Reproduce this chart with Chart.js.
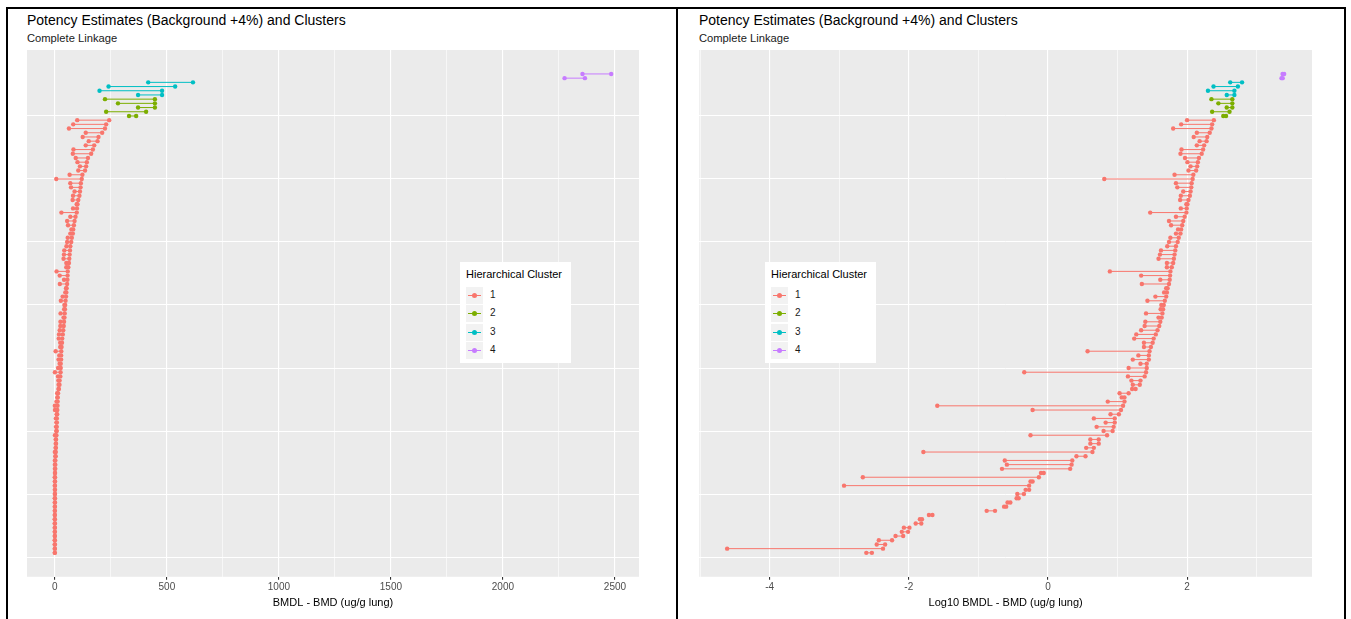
<!DOCTYPE html>
<html>
<head>
<meta charset="utf-8">
<script src="https://cdn.jsdelivr.net/npm/chart.js@4/dist/chart.umd.min.js"></script>
<style>
  body { margin: 0; background: #fff; font-family: "Liberation Sans", Arial, sans-serif; }
  .frame { position: absolute; background: #000; }
  .title { position: absolute; font-size: 14px; line-height: 16px; color: #000; white-space: nowrap; }
  .subtitle { position: absolute; font-size: 11.2px; line-height: 13px; color: #1a1a1a; white-space: nowrap; }
  canvas { position: absolute; }
  .legend { position: absolute; background: #fff; width: 111px; height: 101px; }
  .legend .lt { position: absolute; left: 6px; top: 6px; font-size: 11px; color: #000; white-space: nowrap; }
  .legend .key { position: absolute; left: 6px; width: 17px; height: 17px; background: #f2f2f2; }
  .legend .key i { position: absolute; left: 2px; right: 2px; top: 8px; height: 1px; }
  .legend .key b { position: absolute; left: 6px; top: 6px; width: 5px; height: 5px; border-radius: 50%; }
  .legend .lab { position: absolute; left: 30px; font-size: 10px; color: #1a1a1a; }
</style>
</head>
<body>
<div class="frame" style="left:6px;top:7px;width:1340px;height:2px"></div>
<div class="frame" style="left:6px;top:7px;width:2px;height:612px"></div>
<div class="frame" style="left:676px;top:7px;width:2px;height:612px"></div>
<div class="frame" style="left:1344px;top:7px;width:2px;height:612px"></div>

<div class="title" style="left:27px;top:12px">Potency Estimates (Background +4%) and Clusters</div>
<div class="subtitle" style="left:27px;top:32px">Complete Linkage</div>
<div class="title" style="left:699px;top:12px">Potency Estimates (Background +4%) and Clusters</div>
<div class="subtitle" style="left:699px;top:32px">Complete Linkage</div>

<canvas id="chart-linear" width="612" height="564" style="left:27px;top:50px"></canvas>
<canvas id="chart-log" width="613" height="564" style="left:699px;top:50px"></canvas>

<div id="legend-linear" class="legend" style="left:460px;top:262px"></div>
<div id="legend-log" class="legend" style="left:765px;top:262px"></div>

<script>
// cluster of each row, row 1 (bottom) to row 115 (top)
var clusterIds = [1, 2, 3, 4];
var clusterColors = ["#F8766D", "#7CAE00", "#00BFC4", "#C77CFF"];

var rowCluster = [
  1,1,1,1,1,1,1,1,1,1, 1,1,1,1,1,1,1,1,1,1,
  1,1,1,1,1,1,1,1,1,1, 1,1,1,1,1,1,1,1,1,1,
  1,1,1,1,1,1,1,1,1,1, 1,1,1,1,1,1,1,1,1,1,
  1,1,1,1,1,1,1,1,1,1, 1,1,1,1,1,1,1,1,1,1,
  1,1,1,1,1,1,1,1,1,1, 1,1,1,1,1,1,1,1,1,1,
  1,1,1,1,2,2,2,2,2,3, 3,3,3,4,4
];

// log10 BMDL per row (ug/g lung)
var log10Bmdl = [
  -2.61, -4.61, -2.46, -2.43, -2.19, -2.10, -2.07, -1.90, -1.84, -1.71,
  -0.88, -0.63, -0.58, -0.45, -0.44, -0.32, -2.93, -0.25, -2.66, -0.10,
  -0.66, -0.59, -0.62, 0.41, -1.79, 0.55, 0.61, 0.61, -0.25, 0.80,
  0.70, 0.83, 0.66, 0.90, -0.22, -1.59, 0.86, 1.06, 1.03, 1.21,
  1.22, 1.20, 1.15, -0.34, 1.16, 1.33, 1.22, 1.30, 0.57, 1.38,
  1.38, 1.24, 1.27, 1.34, 1.39, 1.40, 1.59, 1.41, 1.62, 1.63,
  1.43, 1.545, 1.67, 1.70, 1.35, 1.615, 1.34, 0.89, 1.71, 1.71,
  1.59, 1.61, 1.625, 1.715, 1.74, 1.76, 1.84, 1.87, 1.77, 1.74,
  1.84, 1.47, 1.91, 1.99, 1.90, 1.91, 1.945, 1.86, 1.84, 0.81,
  1.82, 2.02, 2.05, 2.005, 1.97, 1.905, 1.92, 2.14, 2.18, 2.095,
  2.14, 1.80, 1.915, 2.00, 2.52, 2.36, 2.57, 2.45, 2.35, 2.57,
  2.30, 2.38, 2.62, 3.357, 3.372
];

// log10 BMD per row (ug/g lung)
var log10Bmd = [
  -2.53, -2.37, -2.34, -2.24, -2.08, -2.01, -1.99, -1.82, -1.81, -1.66,
  -0.76, -0.60, -0.54, -0.42, -0.345, -0.27, -0.27, -0.22, -0.13, -0.06,
  0.32, 0.34, 0.35, 0.54, 0.64, 0.66, 0.73, 0.73, 0.85, 0.93,
  0.945, 0.96, 0.96, 1.02, 1.05, 1.08, 1.10, 1.10, 1.16, 1.26,
  1.32, 1.33, 1.39, 1.41, 1.42, 1.42, 1.45, 1.45, 1.46, 1.48,
  1.505, 1.52, 1.55, 1.575, 1.60, 1.615, 1.635, 1.645, 1.655, 1.665,
  1.68, 1.70, 1.71, 1.72, 1.74, 1.75, 1.755, 1.76, 1.78, 1.80,
  1.81, 1.82, 1.83, 1.84, 1.865, 1.88, 1.905, 1.915, 1.93, 1.945,
  1.965, 1.99, 1.995, 2.005, 2.02, 2.04, 2.05, 2.06, 2.065, 2.08,
  2.09, 2.13, 2.145, 2.155, 2.17, 2.21, 2.23, 2.245, 2.28, 2.29,
  2.325, 2.35, 2.36, 2.385, 2.56, 2.61, 2.65, 2.65, 2.65, 2.68,
  2.68, 2.73, 2.79, 3.374, 3.395
];

// axis breaks (gridlines) and labelled ticks
var linearBreaks = [0, 250, 500, 750, 1000, 1250, 1500, 1750, 2000, 2250, 2500];
var linearLabels = [0, 500, 1000, 1500, 2000, 2500];
var logBreaks = [-5, -4, -3, -2, -1, 0, 1, 2, 3];
var logLabels = [-4, -2, 0, 2];
var rowBreaks = [0, 15, 30, 45, 60, 75, 90, 105];

var panelBg = {
  id: 'panelBg',
  beforeDraw: function(chart) {
    var a = chart.chartArea, c = chart.ctx;
    c.save();
    c.fillStyle = '#EBEBEB';
    c.fillRect(a.left, a.top, a.right - a.left, a.bottom - a.top);
    c.restore();
  }
};

function expand(lo, hi) {
  var d = (hi - lo) * 0.05;
  return [lo - d, hi + d];
}

function setTicks(list) {
  return function(axis) {
    axis.ticks = list.map(function(v) { return {value: v}; });
  };
}

function renderChart(ctx, lows, highs, breaks, labels, axisTitle) {
  var datasets = clusterIds.map(function(cl, k) {
    var pts = [];
    for (var i = 0; i < rowCluster.length; i++) {
      if (rowCluster[i] !== cl) continue;
      pts.push({x: lows[i], y: i + 1}, {x: highs[i], y: i + 1}, {x: null, y: null});
    }
    return {
      label: String(cl),
      data: pts,
      showLine: true,
      spanGaps: false,
      borderColor: clusterColors[k],
      backgroundColor: clusterColors[k],
      borderWidth: 1,
      pointRadius: 2.2,
      pointBorderWidth: 0
    };
  });
  var xr = expand(Math.min.apply(null, lows), Math.max.apply(null, highs));
  var yr = expand(1, rowCluster.length);
  function isMajor(c) { return c.tick && labels.indexOf(c.tick.value) >= 0; }
  return new Chart(ctx, {
    type: 'scatter',
    data: { datasets: datasets },
    options: {
      responsive: false,
      animation: false,
      devicePixelRatio: 1,
      layout: { padding: 0, autoPadding: false },
      plugins: { legend: { display: false }, tooltip: { enabled: false } },
      scales: {
        x: {
          min: xr[0], max: xr[1],
          afterBuildTicks: setTicks(breaks),
          border: { display: false },
          grid: {
            color: '#FFFFFF',
            lineWidth: function(c) { return isMajor(c) ? 1.1 : 0.6; },
            tickLength: 3,
            tickColor: function(c) { return isMajor(c) ? '#333333' : 'rgba(0,0,0,0)'; }
          },
          ticks: {
            autoSkip: false,
            maxRotation: 0,
            padding: 1,
            color: '#4D4D4D',
            font: { family: 'Liberation Sans', size: 10 },
            callback: function(v) { return labels.indexOf(v) >= 0 ? String(v) : ''; }
          },
          title: {
            display: true,
            text: axisTitle,
            color: '#000',
            font: { family: 'Liberation Sans', size: 11 },
            padding: { top: 3, bottom: 4 }
          }
        },
        y: {
          min: yr[0], max: yr[1],
          afterBuildTicks: setTicks(rowBreaks),
          border: { display: false },
          grid: { color: '#FFFFFF', lineWidth: 1, drawTicks: false },
          ticks: { display: false }
        }
      }
    },
    plugins: [panelBg]
  });
}

function buildLegend(el) {
  var html = '<div class="lt">Hierarchical Cluster</div>';
  clusterIds.forEach(function(cl, k) {
    var top = 25 + k * 18.3;
    html += '<div class="key" style="top:' + top + 'px"><i style="background:' + clusterColors[k] + '"></i><b style="background:' + clusterColors[k] + '"></b></div>';
    html += '<div class="lab" style="top:' + (top + 2) + 'px">' + cl + '</div>';
  });
  el.innerHTML = html;
}

var linLow = log10Bmdl.map(function(v) { return Math.pow(10, v); });
var linHigh = log10Bmd.map(function(v) { return Math.pow(10, v); });

renderChart(document.getElementById('chart-linear'), linLow, linHigh, linearBreaks, linearLabels, 'BMDL - BMD (ug/g lung)');
renderChart(document.getElementById('chart-log'), log10Bmdl, log10Bmd, logBreaks, logLabels, 'Log10 BMDL - BMD (ug/g lung)');
buildLegend(document.getElementById('legend-linear'));
buildLegend(document.getElementById('legend-log'));
</script>
</body>
</html>
